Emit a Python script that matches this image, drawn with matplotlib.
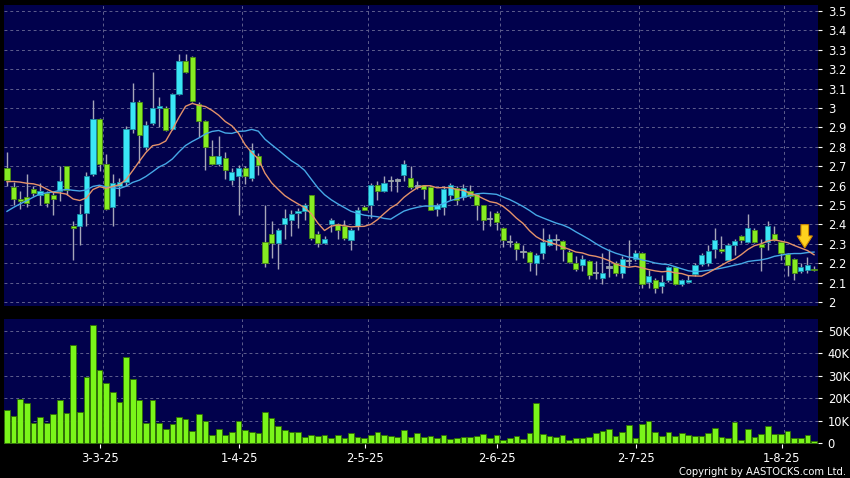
import matplotlib
matplotlib.use("Agg")
import matplotlib.pyplot as plt
from matplotlib.patches import FancyArrow
import numpy as np
import pandas as pd

# daily OHLC, 10 Feb 2025 .. 7 Aug 2025 (123 sessions)
open_ = [2.693, 2.592, 2.530, 2.540, 2.582, 2.551, 2.561, 2.551, 2.570, 2.699,
         2.393, 2.389, 2.461, 2.659, 2.943, 2.711, 2.489, 2.596, 2.616, 2.891,
         3.030, 2.798, 2.922, 2.998, 2.998, 2.891, 3.071, 3.240, 3.262, 3.020,
         2.934, 2.752, 2.712, 2.742, 2.630, 2.647, 2.689, 2.638, 2.754, 2.309,
         2.350, 2.303, 2.401, 2.422, 2.461, 2.467, 2.551, 2.350, 2.303, 2.401,
         2.400, 2.389, 2.321, 2.393, 2.487, 2.501, 2.602, 2.570, 2.622, 2.625,
         2.656, 2.638, 2.595, 2.601, 2.592, 2.479, 2.489, 2.553, 2.587, 2.541,
         2.573, 2.558, 2.498, 2.427, 2.461, 2.381, 2.308, 2.303, 2.255, 2.260,
         2.200, 2.252, 2.295, 2.320, 2.315, 2.260, 2.200, 2.188, 2.212, 2.148,
         2.123, 2.177, 2.200, 2.149, 2.209, 2.221, 2.252, 2.102, 2.114, 2.080,
         2.111, 2.178, 2.092, 2.102, 2.145, 2.197, 2.200, 2.273, 2.274, 2.218,
         2.295, 2.341, 2.310, 2.372, 2.300, 2.310, 2.350, 2.310, 2.248, 2.221,
         2.157, 2.166, 2.169]
high = [2.771, 2.616, 2.570, 2.661, 2.596, 2.613, 2.570, 2.570, 2.702, 2.702,
        2.415, 2.506, 2.671, 3.042, 2.946, 2.764, 2.661, 2.638, 2.908, 3.128,
        3.042, 2.931, 3.188, 3.059, 3.008, 3.077, 3.279, 3.279, 3.266, 3.029,
        2.939, 2.833, 2.853, 2.771, 2.690, 2.707, 2.699, 2.819, 2.767, 2.501,
        2.415, 2.381, 2.479, 2.475, 2.484, 2.510, 2.553, 2.364, 2.338, 2.432,
        2.407, 2.424, 2.381, 2.492, 2.501, 2.613, 2.621, 2.651, 2.651, 2.638,
        2.733, 2.702, 2.621, 2.604, 2.596, 2.510, 2.596, 2.613, 2.596, 2.609,
        2.604, 2.561, 2.501, 2.467, 2.467, 2.384, 2.346, 2.312, 2.295, 2.264,
        2.252, 2.381, 2.352, 2.352, 2.321, 2.269, 2.235, 2.243, 2.218, 2.209,
        2.252, 2.273, 2.209, 2.235, 2.321, 2.266, 2.255, 2.166, 2.123, 2.140,
        2.187, 2.183, 2.118, 2.140, 2.200, 2.252, 2.295, 2.381, 2.338, 2.303,
        2.324, 2.346, 2.455, 2.381, 2.324, 2.415, 2.393, 2.314, 2.252, 2.226,
        2.200, 2.231, 2.183]
low = [2.596, 2.499, 2.479, 2.492, 2.544, 2.501, 2.492, 2.449, 2.518, 2.553,
       2.218, 2.291, 2.389, 2.647, 2.673, 2.472, 2.389, 2.544, 2.596, 2.870,
       2.716, 2.781, 2.913, 2.901, 2.879, 2.888, 3.068, 3.180, 3.030, 2.848,
       2.678, 2.707, 2.702, 2.633, 2.604, 2.449, 2.609, 2.626, 2.656, 2.178,
       2.226, 2.169, 2.324, 2.338, 2.381, 2.424, 2.321, 2.283, 2.300, 2.358,
       2.324, 2.321, 2.266, 2.372, 2.472, 2.432, 2.527, 2.565, 2.570, 2.565,
       2.621, 2.582, 2.582, 2.530, 2.472, 2.441, 2.449, 2.527, 2.501, 2.527,
       2.535, 2.424, 2.369, 2.393, 2.372, 2.283, 2.283, 2.218, 2.226, 2.157,
       2.140, 2.221, 2.286, 2.269, 2.209, 2.200, 2.157, 2.157, 2.118, 2.118,
       2.092, 2.128, 2.135, 2.123, 2.183, 2.209, 2.071, 2.071, 2.046, 2.046,
       2.102, 2.085, 2.083, 2.101, 2.132, 2.183, 2.183, 2.226, 2.252, 2.214,
       2.243, 2.303, 2.303, 2.303, 2.157, 2.269, 2.312, 2.218, 2.132, 2.111,
       2.149, 2.149, 2.157]
close = [2.630, 2.530, 2.518, 2.510, 2.561, 2.570, 2.510, 2.530, 2.623, 2.575,
         2.381, 2.453, 2.650, 2.943, 2.711, 2.479, 2.613, 2.616, 2.891, 3.030,
         2.862, 2.910, 3.000, 3.008, 2.888, 3.071, 3.240, 3.188, 3.037, 2.934,
         2.798, 2.712, 2.752, 2.681, 2.668, 2.689, 2.647, 2.785, 2.707, 2.200,
         2.303, 2.369, 2.431, 2.455, 2.468, 2.498, 2.329, 2.303, 2.327, 2.420,
         2.372, 2.329, 2.369, 2.475, 2.475, 2.602, 2.570, 2.613, 2.622, 2.625,
         2.712, 2.592, 2.595, 2.584, 2.475, 2.498, 2.584, 2.601, 2.527, 2.587,
         2.544, 2.501, 2.424, 2.427, 2.412, 2.321, 2.308, 2.273, 2.255, 2.204,
         2.240, 2.309, 2.327, 2.320, 2.273, 2.204, 2.169, 2.223, 2.140, 2.148,
         2.149, 2.177, 2.149, 2.221, 2.209, 2.252, 2.092, 2.132, 2.071, 2.102,
         2.178, 2.092, 2.114, 2.114, 2.192, 2.243, 2.264, 2.321, 2.264, 2.295,
         2.312, 2.321, 2.381, 2.310, 2.283, 2.393, 2.321, 2.252, 2.192, 2.149,
         2.178, 2.192, 2.163]
# closes before the visible window (feed the moving averages only)
prior_close = [2.12, 2.15, 2.18, 2.20, 2.24, 2.40, 2.44, 2.46, 2.47, 2.48,
               2.52, 2.55, 2.57, 2.59, 2.66, 2.69, 2.70, 2.65, 2.64]
volume = [14.8, 12.2, 19.9, 18.1, 9.2, 11.9, 8.9, 13.1, 19.3, 13.4,
          43.8, 14.1, 29.7, 52.7, 32.6, 26.7, 22.7, 18.2, 38.6, 28.6,
          19.3, 9.2, 19.3, 8.9, 6.2, 8.8, 11.7, 10.8, 5.3, 13.2,
          10.1, 3.6, 6.5, 3.7, 5.0, 10.1, 5.8, 4.9, 4.5, 14.1,
          11.4, 7.7, 5.9, 4.9, 5.2, 2.7, 3.9, 3.3, 3.9, 2.5,
          3.6, 2.5, 4.6, 3.0, 2.4, 3.7, 5.2, 3.6, 3.3, 2.8,
          6.1, 2.8, 4.7, 3.0, 3.1, 2.5, 3.7, 1.9, 2.5, 2.8,
          3.0, 3.4, 4.0, 2.2, 3.7, 1.5, 2.4, 3.1, 1.9, 4.5,
          18.1, 4.2, 3.3, 3.0, 3.6, 1.3, 2.5, 2.2, 3.0, 4.5,
          5.6, 6.2, 3.3, 4.9, 8.0, 2.4, 8.6, 9.9, 4.9, 3.4,
          5.2, 3.4, 4.7, 3.7, 3.1, 3.1, 4.5, 6.7, 2.7, 2.4,
          9.5, 1.3, 6.5, 2.7, 4.0, 7.9, 4.2, 4.2, 5.3, 2.5,
          2.5, 3.6, 1.2]  # thousands
date_labels = ["3-3-25", "1-4-25", "2-5-25", "2-6-25", "2-7-25", "1-8-25"]
date_pos = [15, 36, 55, 75, 96, 118]
price_ticks = [2.0, 2.1, 2.2, 2.3, 2.4, 2.5, 2.6, 2.7, 2.8, 2.9, 3.0, 3.1, 3.2, 3.3, 3.4, 3.5]
vol_ticks = [0, 10, 20, 30, 40, 50]

NAVY = "#01014c"
GRID = "#5e5e8e"
UP, UP_EDGE = "#3ae6f6", "#1c8fa6"
DOWN, DOWN_EDGE = "#86ec22", "#4a8c12"
FLAT = "#9aa4a8"

o, h, l, c = (np.array(a) for a in (open_, high, low, close))
x = np.arange(len(c))
full = pd.Series(prior_close + close)
ma10 = full.rolling(10).mean().to_numpy()[len(prior_close):]
ma20 = full.rolling(20).mean().to_numpy()[len(prior_close):]

fig = plt.figure(figsize=(8.5, 4.78), dpi=100, facecolor="black")
ax = fig.add_axes([4 / 850, 1 - 306 / 478, 814 / 850, 301 / 478], facecolor=NAVY)
axv = fig.add_axes([4 / 850, 1 - 444 / 478, 814 / 850, 125 / 478], facecolor=NAVY)

# candles
colors = np.where(c > o, UP, np.where(c < o, DOWN, FLAT))
edges = np.where(c > o, UP_EDGE, np.where(c < o, DOWN_EDGE, FLAT))
ax.vlines(x, l, h, color="#a6a6b8", lw=1.0, zorder=2)
body = np.maximum(np.abs(c - o), 0.007)
ax.bar(x, body, bottom=np.minimum(o, c), width=0.78, color=colors,
       edgecolor=edges, linewidth=0.6, zorder=3)
ax.plot(x, ma20, color="#46a8e6", lw=1.0, zorder=4)
ax.plot(x, ma10, color="#e4926a", lw=1.0, zorder=4)

# marker arrow over the last session
arrow_x = x[-1] - 1.4
tip = ma10[-1] + 0.035
ax.add_patch(FancyArrow(arrow_x, tip + 0.12, 0, -0.12, width=1.15, head_width=2.3,
                        head_length=0.062, length_includes_head=True,
                        fc="#ffd21f", ec="#d08a00", lw=0.8, zorder=5))

axv.bar(x, volume, width=0.86, color="#7af51a", edgecolor="#2f7000",
        linewidth=0.6, zorder=3)

for a in (ax, axv):
    a.set_xlim(-0.45, len(c) - 0.4)
    for s in a.spines.values():
        s.set_visible(False)
    a.yaxis.tick_right()
    a.tick_params(axis="y", colors="white", length=3, width=0.8, pad=4,
                  labelsize=8.3)
    a.grid(axis="y", color=GRID, ls=(0, (3, 3)), lw=0.7, zorder=1)
    for d in date_pos:
        a.axvline(d - 0.5, color=GRID, ls=(0, (3, 3)), lw=0.7, zorder=1)

ax.set_ylim(1.979, 3.531)
ax.set_yticks(price_ticks)
ax.set_yticklabels([f"{v:g}" for v in price_ticks])
ax.set_xticks([])

axv.set_ylim(-0.3, 55.3)
axv.set_yticks(vol_ticks)
axv.set_yticklabels([f"{v}K" if v else "0" for v in vol_ticks])
axv.set_xticks([d - 0.9 for d in date_pos])
axv.set_xticklabels(date_labels)
axv.tick_params(axis="x", colors="white", length=3, width=0.8, pad=3,
                labelsize=8.3)

fig.text(846 / 850, 6 / 478, "Copyright by AASTOCKS.com Ltd.", ha="right",
         va="center", color="white", fontsize=7.2)

fig.savefig("out.png", dpi=100, facecolor="black")
